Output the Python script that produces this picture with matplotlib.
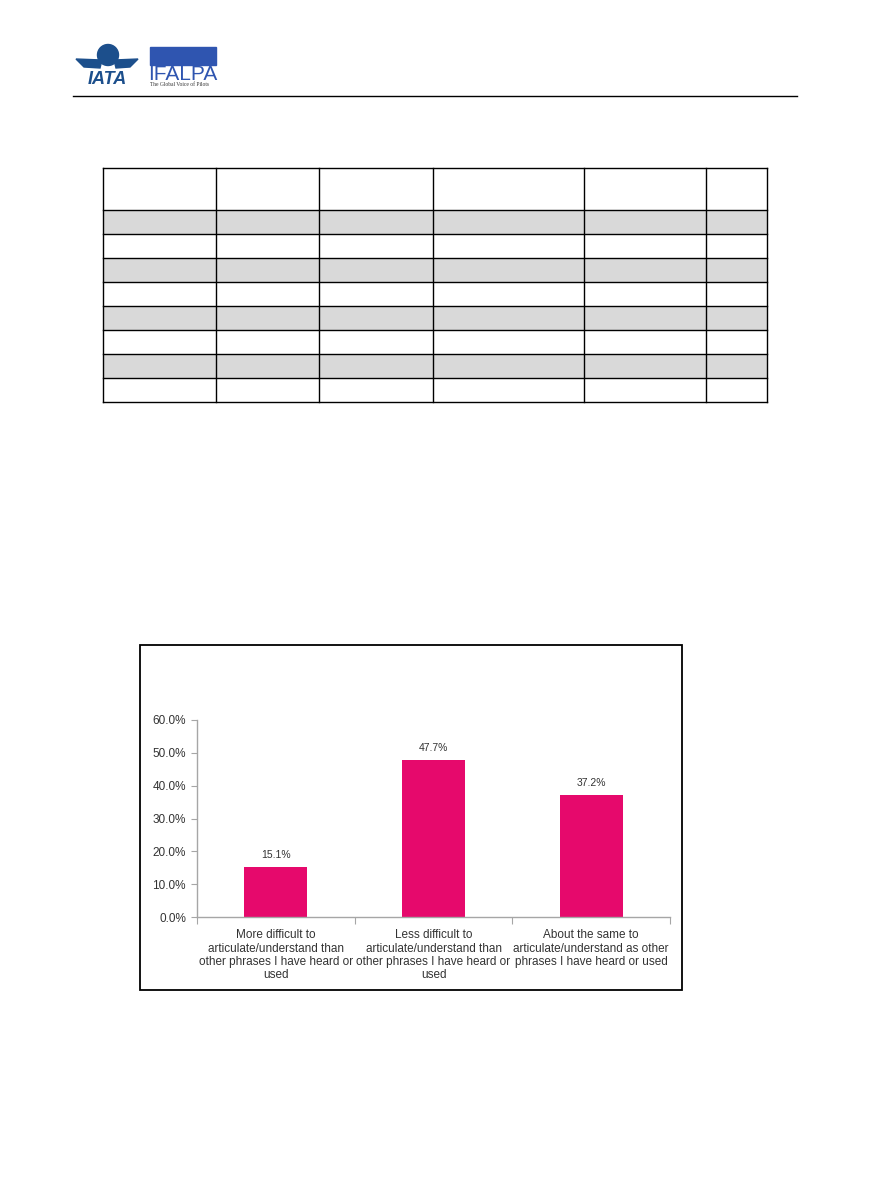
import matplotlib
matplotlib.use("Agg")
import matplotlib.pyplot as plt
from matplotlib.patches import Rectangle, Circle, Polygon

plt.rcParams['font.family'] = ['Liberation Sans', 'DejaVu Sans']

# chart data
categories = [
    "More difficult to\narticulate/understand than\nother phrases I have heard or\nused",
    "Less difficult to\narticulate/understand than\nother phrases I have heard or\nused",
    "About the same to\narticulate/understand as other\nphrases I have heard or used",
]
values = [15.1, 47.7, 37.2]
y_ticks = [0, 10, 20, 30, 40, 50, 60]

BAR = "#e6096c"
AXIS = "#a6a6a6"
W, H = 891, 1188

fig = plt.figure(figsize=(W / 100, H / 100), dpi=100)

# page layer in pixel coordinates
page = fig.add_axes([0, 0, 1, 1])
page.set_xlim(0, W)
page.set_ylim(H, 0)
page.axis("off")

# --- header logos (rough) ---
navy = "#1c4f8c"
page.add_patch(Polygon([[76, 59], [102, 60], [100, 68], [84, 67]], color=navy))
page.add_patch(Polygon([[138, 59], [114, 60], [116, 68], [130, 67]], color=navy))
page.add_patch(Circle((108, 55), 10.5, color=navy))
page.text(107, 79, "IATA", color=navy, fontsize=13, fontweight="bold",
          style="italic", ha="center", va="center")
page.add_patch(Rectangle((150, 47), 66, 18, color="#2f55b0"))
page.text(183, 74, "IFALPA", color="#2f55b0", fontsize=15, ha="center",
          va="center", fontstretch="condensed")
page.text(150, 85, "The Global Voice of Pilots", color="#333333", fontsize=4,
          family="Liberation Serif", ha="left", va="center")
page.plot([73, 797], [96, 96], color="black", lw=1)

# --- empty table ---
col_x = [103, 216, 319, 433, 584, 706, 767]
row_y = [168, 210, 234, 258, 282, 306, 330, 354, 378, 402]
for i in range(1, len(row_y) - 1, 2):
    page.add_patch(Rectangle((col_x[0], row_y[i]), col_x[-1] - col_x[0],
                             row_y[i + 1] - row_y[i], color="#d9d9d9", lw=0))
for y in row_y:
    page.plot([col_x[0], col_x[-1]], [y, y], color="black", lw=1)
for x in col_x:
    page.plot([x, x], [row_y[0], row_y[-1]], color="black", lw=1)

# --- chart frame ---
page.add_patch(Rectangle((140, 645), 542, 345, fill=False, ec="black", lw=1.3))

# --- bar chart ---
ax = fig.add_axes([197 / W, 1 - 917 / H, 473 / W, 197 / H])
pos = list(range(len(values)))
ax.bar(pos, values, width=0.4, color=BAR)
for p, v in zip(pos, values):
    ax.text(p, v + 2.2, f"{v:.1f}%", ha="center", va="bottom", fontsize=7.5,
            color="#333333")

ax.set_xlim(-0.5, len(values) - 0.5)
ax.set_ylim(0, 60)
ax.set_yticks(y_ticks)
ax.set_yticklabels([f"{t:.1f}%" for t in y_ticks], fontsize=8.5, color="#333333")
ax.set_xticks([p - 0.5 for p in pos] + [len(values) - 0.5])
ax.set_xticklabels([])
ax.set_xticks(pos, minor=True)
ax.set_xticklabels(categories, minor=True, fontsize=8.5, color="#333333",
                   linespacing=1.12)
ax.tick_params(axis="x", which="minor", length=0, pad=9)
ax.tick_params(axis="x", which="major", length=5, color=AXIS)
ax.tick_params(axis="y", length=4, color=AXIS, pad=4)
for s in ["top", "right"]:
    ax.spines[s].set_visible(False)
for s in ["left", "bottom"]:
    ax.spines[s].set_color(AXIS)
    ax.spines[s].set_linewidth(1)
ax.patch.set_alpha(0)

fig.savefig("out.png", dpi=100)
